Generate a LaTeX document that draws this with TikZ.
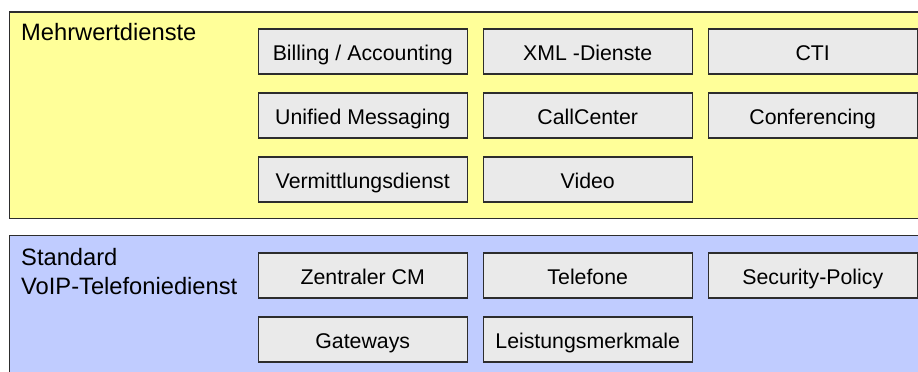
\documentclass[tikz,border=0pt]{standalone}
\usepackage{fontspec}
\setmainfont{Liberation Sans}
\definecolor{layeryellow}{RGB}{255,255,153}
\definecolor{layerblue}{RGB}{192,204,255}
\definecolor{boxgray}{RGB}{234,234,234}
\definecolor{edgegray}{RGB}{45,45,45}
\begin{document}
\begin{tikzpicture}[x=1pt,y=-1pt,
  layer/.style={draw=edgegray,line width=1.5pt},
  svcbox/.style={draw=edgegray,fill=boxgray,line width=1.5pt,rectangle,
    anchor=north west,inner sep=0pt,minimum width=209pt,minimum height=45pt,
    text height=17.6pt,text depth=0pt,font=\fontsize{21.3}{25}\selectfont},
  layerlabel/.style={anchor=base west,inner sep=0pt,
    font=\fontsize{23.7}{28.3}\selectfont}]
\useasboundingbox (0,0) rectangle (918,372);
\clip (0,0) rectangle (918,372);
% the two service layers (they run past the right and lower edges)
\path[layer,fill=layeryellow] (9.5,12) rectangle (940,218.5);
\path[layer,fill=layerblue] (9.5,235.5) rectangle (940,400);
\node[layerlabel] (mwlabel) at (21,40.7) {Mehrwertdienste};
\node[layerlabel] (stdlabel) at (21,265.7) {Standard};
\node[layerlabel] (voiplabel) at (21,294) {VoIP-Telefoniedienst};
% value-added services
\node[svcbox] (billing) at (257.5,28) {Billing / Accounting};
\node[svcbox] (xml) at (482.5,28) {XML -Dienste};
\node[svcbox] (cti) at (707.5,28) {CTI};
\node[svcbox] (um) at (257.5,92) {Unified Messaging};
\node[svcbox] (callcenter) at (482.5,92) {CallCenter};
\node[svcbox] (conf) at (707.5,92) {Conferencing};
\node[svcbox] (vermittlung) at (257.5,156) {Vermittlungsdienst};
\node[svcbox] (video) at (482.5,156) {Video};
% basic VoIP telephony
\node[svcbox] (cm) at (257.5,252) {Zentraler CM};
\node[svcbox] (telefone) at (482.5,252) {Telefone};
\node[svcbox] (security) at (707.5,252) {Security-Policy};
\node[svcbox] (gateways) at (257.5,316) {Gateways};
\node[svcbox] (leistung) at (482.5,316) {Leistungsmerkmale};
\end{tikzpicture}
\end{document}
